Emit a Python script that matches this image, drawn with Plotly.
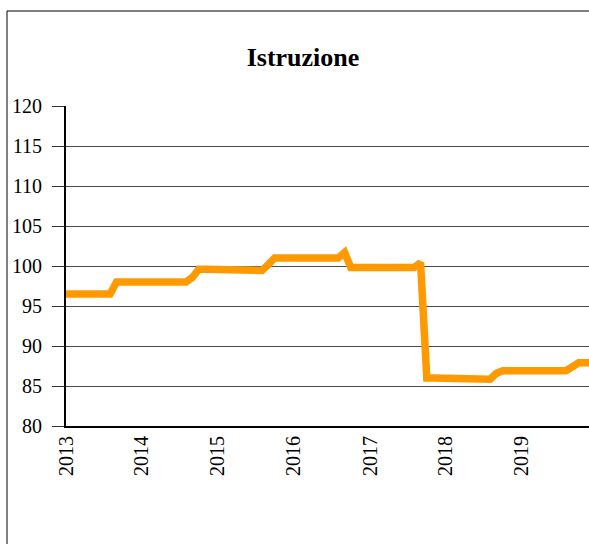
import plotly.graph_objects as go

# Monthly index values, Jan 2013 .. Dec 2019
months = [f"{y}-{m:02d}-01" for y in range(2013, 2020) for m in range(1, 13)]
values_2013 = [96.5, 96.5, 96.5, 96.5, 96.5, 96.5, 96.5, 96.5, 98.0, 98.0, 98.0, 98.0]
values_2014 = [98.0, 98.0, 98.0, 98.0, 98.0, 98.0, 98.0, 98.0, 98.6, 99.6, 99.6, 99.6]
values_2015 = [99.6, 99.6, 99.6, 99.6, 99.6, 99.45, 99.45, 99.45, 100.2, 101.0, 101.0, 101.0]
values_2016 = [101.0, 101.0, 101.0, 101.0, 101.0, 101.0, 101.0, 101.0, 101.7, 99.8, 99.8, 99.8]
values_2017 = [99.8, 99.8, 99.8, 99.8, 99.8, 99.8, 99.8, 99.8, 100.4, 86.0, 86.0, 86.0]
values_2018 = [86.0, 86.0, 86.0, 86.0, 86.0, 85.85, 85.85, 85.85, 86.6, 86.9, 86.9, 86.9]
values_2019 = [86.9, 86.9, 86.9, 86.9, 86.9, 86.9, 86.9, 86.9, 87.4, 87.9, 87.9, 87.9]
values = values_2013 + values_2014 + values_2015 + values_2016 + values_2017 + values_2018 + values_2019

title_text = "Istruzione"
FONT = "Liberation Serif"

fig = go.Figure()
fig.add_trace(go.Scatter(
    x=months, y=values, mode="lines",
    line=dict(color="#ff9900", width=7.5),
    showlegend=False, hoverinfo="skip",
))

fig.update_layout(
    width=589, height=544,
    margin=dict(l=66, r=0, t=106, b=118),
    paper_bgcolor="white", plot_bgcolor="white",
    font=dict(family=FONT, color="black", size=20),
    title=dict(text=title_text, x=303 / 589, xref="container", xanchor="center",
               y=1 - 57 / 544, yref="container", yanchor="middle",
               font=dict(family=FONT, size=26, weight="bold", color="black")),
    xaxis=dict(
        type="date", range=["2013-01-01", "2019-11-19 12:00"],
        dtick="M12", tick0="2013-01-01", tickformat="%Y", tickangle=-90,
        showgrid=False, zeroline=False, ticks="",
        showline=True, linecolor="black", linewidth=2,
        tickfont=dict(family=FONT, size=20, color="black"),
    ),
    yaxis=dict(
        range=[80, 120], dtick=5, tick0=80,
        showgrid=True, gridcolor="#4a4a4a", gridwidth=1.3,
        zeroline=False, ticks="outside", ticklen=12, tickcolor="#333333", tickwidth=1.3,
        showline=True, linecolor="black", linewidth=2,
        ticklabelstandoff=6,
        tickfont=dict(family=FONT, size=20, color="black"),
    ),
    shapes=[dict(type="rect", xref="paper", yref="paper",
                 x0=(7 - 66) / 523, x1=1.3, y0=-0.6, y1=(426 - 11) / 320,
                 line=dict(color="black", width=1), fillcolor="rgba(0,0,0,0)", layer="below")],
)

fig.write_html("out.html", config={"displayModeBar": False},
               post_script="document.body.style.margin='0';document.body.style.overflow='hidden';")
